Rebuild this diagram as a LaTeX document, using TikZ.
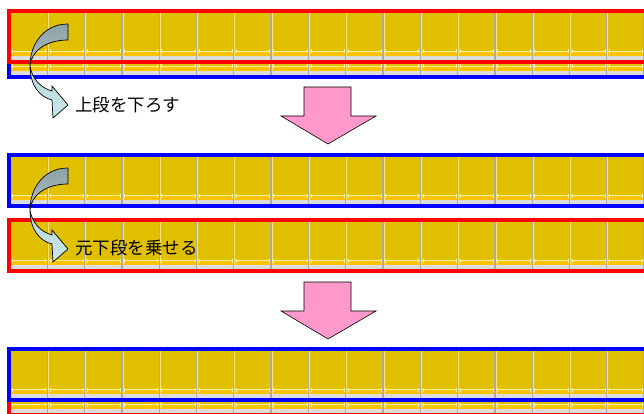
\documentclass[tikz,border=0pt]{standalone}
\usepackage{fontspec}
\newfontfamily\jpfont{Noto Sans CJK JP}
\definecolor{face}{RGB}{224,192,0}
\definecolor{band}{RGB}{252,196,0}
\definecolor{lightln}{RGB}{255,240,150}
\definecolor{grayband}{RGB}{220,220,220}
\definecolor{divgray}{RGB}{175,170,160}
\definecolor{divlight}{RGB}{255,226,120}
\definecolor{rackred}{RGB}{255,0,0}
\definecolor{rackblue}{RGB}{0,0,255}
\definecolor{pinkarrow}{RGB}{255,153,204}
\definecolor{darkA}{RGB}{140,162,166}
\definecolor{darkB}{RGB}{168,190,194}
\definecolor{lightA}{RGB}{184,214,218}
\definecolor{lightB}{RGB}{200,232,236}
\newcommand\myrack[2]{%
  \begin{scope}[shift={(0,#1)}]
    \fill[face] (8,0) rectangle (680,55);
    \fill[lightln] (8,42) rectangle (680,43.2);
    \fill[band] (8,43.2) rectangle (680,47.2);
    \fill[grayband] (8,47.2) rectangle (680,52);
    \foreach \i in {1,...,17} {
      \pgfmathsetmacro\xx{10+37.3*\i}
      \draw[divgray, line width=1.3] (\xx,2) -- (\xx,53);
      \draw[divlight, line width=0.9] (\xx+1.1,2) -- (\xx+1.1,47);
    }
    \foreach \i in {0,...,17} {
      \pgfmathsetmacro\xx{10+37.3*\i}
      \draw[lightln, line width=0.8] (\xx+2.6,40.5) -- (\xx+2.6,44.5);
      \draw[lightln, line width=0.8] (\xx+35.8,40.5) -- (\xx+35.8,44.5);
    }
    \draw[#2, line width=3.6] (9.1,1.8) rectangle (700,53.2);
  \end{scope}}
\newcommand\mycurve[1]{%
  \begin{scope}[shift={(0,#1)}]
    \draw[line width=0.7, top color=darkA, bottom color=darkB]
      (68,24) .. controls (44,24) and (30,44) .. (30,66)
      .. controls (31,52) and (45,40) .. (68,40) -- cycle;
    \draw[line width=0.7, top color=lightA, bottom color=lightB]
      (30,66) .. controls (30,86) and (40,97) .. (52,100)
      -- (53,118) -- (68,105) -- (52,86) -- (52,91)
      .. controls (41,88) and (32,79) .. (30,66) -- cycle;
  \end{scope}}
\begin{document}
\begin{tikzpicture}[x=1pt,y=-1pt,
  bigarrow/.style={draw=black, line width=0.6, fill=pinkarrow},
  label/.style={anchor=west, inner sep=0pt, font=\jpfont\fontsize{17.5}{17.5}\selectfont}]
\useasboundingbox (0,0) rectangle (644,414);
\clip (0,0) rectangle (644,414);
% panel 1
\myrack{24}{rackblue}
\myrack{9}{rackred}
% panel 2
\myrack{153}{rackblue}
\myrack{218}{rackred}
% panel 3
\myrack{362}{rackred}
\myrack{347}{rackblue}
% curved arrows
\mycurve{0}
\mycurve{144}
\node[label] (t1) at (75,105) {上段を下ろす};
\node[label] (t2) at (75,248) {元下段を乗せる};
% big arrows
\draw[bigarrow] (304,87) -- (351,87) -- (351,116) -- (376,116) -- (328,144) -- (281,116) -- (304,116) -- cycle;
\draw[bigarrow] (304,282) -- (351,282) -- (351,311) -- (376,311) -- (328,339) -- (281,311) -- (304,311) -- cycle;
\end{tikzpicture}
\end{document}
